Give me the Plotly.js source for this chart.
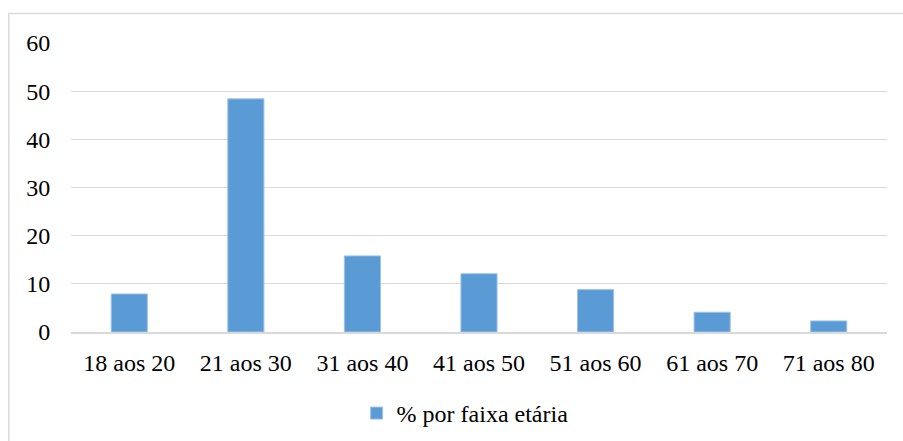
<!DOCTYPE html>
<html>
<head>
<meta charset="utf-8">
<script src="https://cdn.plot.ly/plotly-3.0.1.min.js"></script>
<style>html,body{margin:0;padding:0;background:#fff;}#chart{width:903px;height:441px;}</style>
</head>
<body>
<div id="chart"></div>
<script>
const categories = ["18 aos 20", "21 aos 30", "31 aos 40", "41 aos 50", "51 aos 60", "61 aos 70", "71 aos 80"];
const values = [7.9, 48.4, 15.8, 12.1, 8.8, 4.1, 2.3];
const seriesName = "% por faixa etária";
const yTicks = [0, 10, 20, 30, 40, 50, 60];

const fontFam = "Liberation Serif";

const trace = {
  type: 'bar',
  x: categories,
  y: values,
  name: seriesName,
  marker: {color: '#5b9bd5', line: {color: '#9dc3e6', width: 1}},
  hoverinfo: 'x+y'
};

const layout = {
  width: 903,
  height: 441,
  margin: {l: 70.7, r: 15.5, t: 43, b: 108.7, autoexpand: false},
  paper_bgcolor: '#ffffff',
  plot_bgcolor: '#ffffff',
  font: {family: fontFam, size: 24, color: '#000000'},
  bargap: 0.69,
  showlegend: true,
  legend: {
    orientation: 'h',
    x: 0.35, xanchor: 'left',
    y: -0.282, yanchor: 'middle',
    font: {family: fontFam, size: 24, color: '#000000'},
    bgcolor: 'rgba(0,0,0,0)'
  },
  xaxis: {
    type: 'category',
    automargin: false,
    showgrid: false,
    showline: true,
    linecolor: '#d9d9d9',
    linewidth: 2,
    ticks: 'outside',
    ticklen: 8,
    tickcolor: 'rgba(0,0,0,0)',
    tickfont: {family: fontFam, size: 24, color: '#000000'},
    zeroline: false
  },
  yaxis: {
    automargin: false,
    range: [0, 60],
    tickvals: yTicks,
    ticktext: yTicks.map(String),
    showgrid: true,
    gridcolor: '#d9d9d9',
    gridwidth: 1.3,
    zeroline: false,
    showline: false,
    ticks: 'outside',
    ticklen: 15,
    tickcolor: 'rgba(0,0,0,0)',
    tickfont: {family: fontFam, size: 24, color: '#000000'}
  },
  shapes: [{
    type: 'rect', xref: 'paper', yref: 'paper',
    x0: -0.0762, x1: 1.03, y0: -0.40, y1: 1.102,
    line: {color: '#d9d9d9', width: 1.5},
    fillcolor: 'rgba(0,0,0,0)',
    layer: 'below'
  }]
};

Plotly.newPlot('chart', [trace], layout, {displayModeBar: false, staticPlot: true});
</script>
</body>
</html>
